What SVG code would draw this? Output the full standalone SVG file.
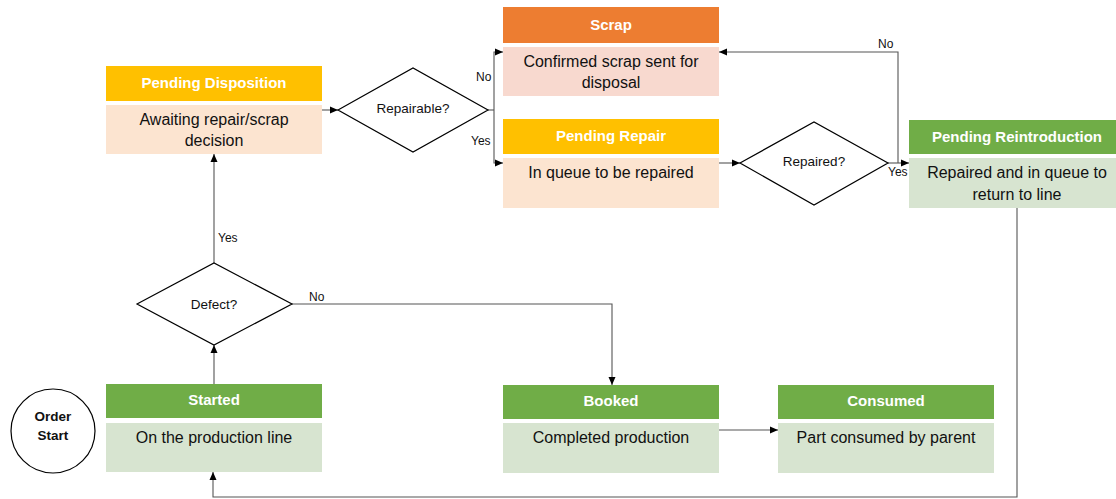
<svg xmlns="http://www.w3.org/2000/svg" width="1116" height="499" viewBox="0 0 1116 499">
<defs>
<marker id="ah" viewBox="0 0 8 8" refX="8" refY="4" markerWidth="8" markerHeight="8" markerUnits="userSpaceOnUse" orient="auto"><path d="M0,0.5 L8,4 L0,7.5 Z" fill="#000"/></marker>
<style>
.hd{font-family:"Liberation Sans",Arial,sans-serif;font-weight:bold;font-size:15px;fill:#fff;text-anchor:middle}
.bd{font-family:"Liberation Sans",Arial,sans-serif;font-size:16px;fill:#111;text-anchor:middle}
.dt{font-family:"Liberation Sans",Arial,sans-serif;font-size:13.5px;fill:#111;text-anchor:middle}
.lb{font-family:"Liberation Sans",Arial,sans-serif;font-size:12px;fill:#111}
.dm{fill:#fff;stroke:#000;stroke-width:1.2}
.cn{fill:none;stroke:#555;stroke-width:1.1}
.ca{fill:none;stroke:#555;stroke-width:1.1;marker-end:url(#ah)}
.yh{fill:#FFC000}.yb{fill:#FCE4D0}
.oh{fill:#ED7D31}.ob{fill:#F8D9CF}
.gh{fill:#70AD47}.gb{fill:#D7E4D0}
</style>
</defs>
<rect width="1116" height="499" fill="#fff"/>

<g id="connectors">
<path class="ca" d="M322,110 H338"/>
<path class="cn" d="M488,110 H494"/>
<path class="ca" d="M494,110 V52 H503"/>
<path class="ca" d="M494,110 V163 H503"/>
<path class="ca" d="M719,163 H740"/>
<path class="cn" d="M888,163 H898"/>
<path class="ca" d="M898,163 V52 H719"/>
<path class="ca" d="M898,163 H909"/>
<path class="ca" d="M1017,208 V497 H213 V472"/>
<path class="ca" d="M214,384 V345"/>
<path class="ca" d="M214,263 V154"/>
<path class="ca" d="M292,304 H612 V385"/>
<path class="ca" d="M719,430 H778"/>
<text class="lb" x="476" y="81">No</text>
<text class="lb" x="471" y="145">Yes</text>
<text class="lb" x="878" y="48">No</text>
<text class="lb" x="888" y="176">Yes</text>
<text class="lb" x="218" y="242">Yes</text>
<text class="lb" x="309" y="301">No</text>
</g>

<g id="order-start">
<circle cx="53" cy="431" r="42" fill="#fff" stroke="#000" stroke-width="1.2"/>
<text class="dt" x="53" y="421" font-weight="bold">Order</text>
<text class="dt" x="53" y="440" font-weight="bold">Start</text>
</g>

<g id="pending-disposition">
<rect class="yh" x="106" y="66" width="216" height="35"/>
<rect class="yb" x="106" y="105" width="216" height="49"/>
<text class="hd" x="214" y="88">Pending Disposition</text>
<text class="bd" x="214" y="125">Awaiting repair/scrap</text>
<text class="bd" x="214" y="146">decision</text>
</g>

<g id="repairable">
<polygon class="dm" points="338,110 413,68 488,110 413,152"/>
<text class="dt" x="413" y="113">Repairable?</text>
</g>

<g id="scrap">
<rect class="oh" x="503" y="7" width="216" height="36"/>
<rect class="ob" x="503" y="47" width="216" height="49"/>
<text class="hd" x="611" y="30">Scrap</text>
<text class="bd" x="611" y="67">Confirmed scrap sent for</text>
<text class="bd" x="611" y="88">disposal</text>
</g>

<g id="pending-repair">
<rect class="yh" x="503" y="119" width="216" height="35"/>
<rect class="yb" x="503" y="158" width="216" height="50"/>
<text class="hd" x="611" y="141">Pending Repair</text>
<text class="bd" x="611" y="178">In queue to be repaired</text>
</g>

<g id="repaired">
<polygon class="dm" points="740,163 814,122 888,163 814,205"/>
<text class="dt" x="814" y="166">Repaired?</text>
</g>

<g id="pending-reintroduction">
<rect class="gh" x="909" y="120" width="216" height="34"/>
<rect class="gb" x="909" y="158" width="216" height="50"/>
<text class="hd" x="1017" y="142">Pending Reintroduction</text>
<text class="bd" x="1017" y="178">Repaired and in queue to</text>
<text class="bd" x="1017" y="200">return to line</text>
</g>

<g id="defect">
<polygon class="dm" points="137,304 214,263 292,304 214,345"/>
<text class="dt" x="214" y="309">Defect?</text>
</g>

<g id="started">
<rect class="gh" x="106" y="384" width="216" height="34"/>
<rect class="gb" x="106" y="423" width="216" height="49"/>
<text class="hd" x="214" y="405">Started</text>
<text class="bd" x="214" y="443">On the production line</text>
</g>

<g id="booked">
<rect class="gh" x="503" y="385" width="216" height="34"/>
<rect class="gb" x="503" y="423" width="216" height="50"/>
<text class="hd" x="611" y="406">Booked</text>
<text class="bd" x="611" y="443">Completed production</text>
</g>

<g id="consumed">
<rect class="gh" x="778" y="385" width="216" height="34"/>
<rect class="gb" x="778" y="423" width="216" height="50"/>
<text class="hd" x="886" y="406">Consumed</text>
<text class="bd" x="886" y="443">Part consumed by parent</text>
</g>
</svg>
